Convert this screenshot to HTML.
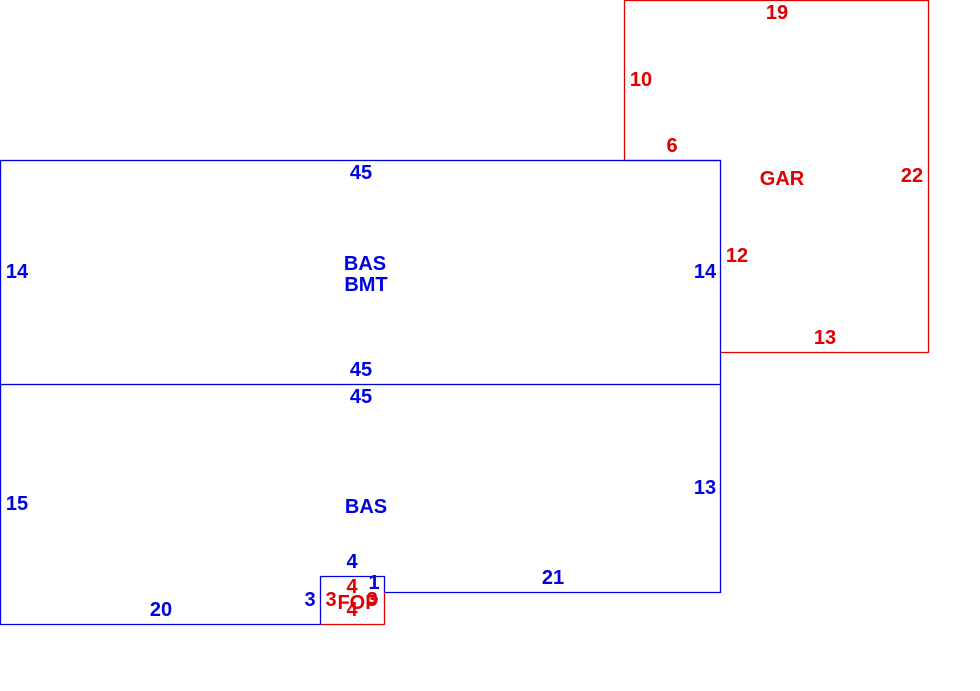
<!DOCTYPE html>
<html><head><style>
body{margin:0;background:#fff;}
svg text{font-family:"Liberation Sans",sans-serif;font-size:20px;font-weight:bold;text-anchor:middle;dominant-baseline:central;}
.b{fill:#0000e0}.r{fill:#e00000}
</style></head><body>
<svg width="980" height="686" xmlns="http://www.w3.org/2000/svg">
<g fill="none" stroke-width="1.3">
<polyline stroke="#e00000" points="720.5,160.5 624.5,160.5 624.5,0.5 928.5,0.5 928.5,352.5 720.5,352.5"/>
<rect x="0.5" y="160.5" width="720" height="224" stroke="#0000e0"/>
<polyline stroke="#0000e0" points="0.5,384.5 0.5,624.5 320.5,624.5 320.5,576.5 384.5,576.5 384.5,592.5 720.5,592.5 720.5,384.5"/>
<polyline stroke="#e00000" points="384.5,592.5 384.5,624.5 320.5,624.5"/>
</g>
<text class="r" x="777" y="13">19</text>
<text class="r" x="641" y="80">10</text>
<text class="r" x="672" y="146">6</text>
<text class="r" x="782" y="179">GAR</text>
<text class="r" x="912" y="176">22</text>
<text class="r" x="737" y="256">12</text>
<text class="r" x="825" y="338">13</text>
<text class="b" x="361" y="173">45</text>
<text class="b" x="17" y="272">14</text>
<text class="b" x="365" y="264">BAS</text>
<text class="b" x="366" y="285">BMT</text>
<text class="b" x="705" y="272">14</text>
<text class="b" x="361" y="370">45</text>
<text class="b" x="361" y="397">45</text>
<text class="b" x="17" y="504">15</text>
<text class="b" x="366" y="507">BAS</text>
<text class="b" x="705" y="488">13</text>
<text class="b" x="352" y="562">4</text>
<text class="b" x="553" y="578">21</text>
<text class="b" x="374" y="583">1</text>
<text class="b" x="310" y="600">3</text>
<text class="b" x="161" y="610">20</text>
<text class="b" x="372" y="600">3</text>
<text class="r" x="352" y="587">4</text>
<text class="r" x="331" y="600">3</text>
<text class="r" x="358" y="603">FOP</text>
<text class="r" x="372" y="600">3</text>
<text class="r" x="352" y="610">4</text>
</svg>
</body></html>
